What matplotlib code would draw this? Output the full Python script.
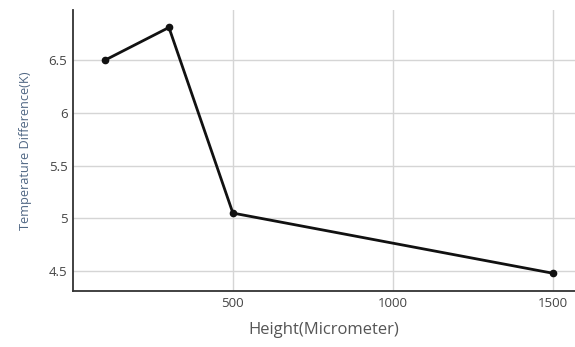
import matplotlib.pyplot as plt

# Altura del canal vs diferencia de temperatura
height = [100, 300, 500, 1500]
temp_diff = [6.5, 6.81, 5.05, 4.48]
x_ticks = [500, 1000, 1500]
y_ticks = [4.5, 5, 5.5, 6, 6.5]

plt.rcParams['font.family'] = ['Open Sans', 'DejaVu Sans']

fig = plt.figure(figsize=(5.75, 3.47), dpi=100)
ax = fig.add_axes([0.127, 0.161, 0.873, 0.81])

ax.plot(height, temp_diff, color='#111111', lw=2, marker='o', ms=4.5, zorder=3)

ax.set_xlim(0, 1570)
ax.set_ylim(4.31, 6.975)
ax.set_xticks(x_ticks)
ax.set_yticks(y_ticks)
ax.set_yticklabels(['4.5', '5', '5.5', '6', '6.5'])
ax.tick_params(length=0, labelsize=9.5, colors='#444444', pad=4)
ax.grid(True, color='#d5d5d5', lw=1)
ax.set_axisbelow(True)

for s in ['top', 'right']:
    ax.spines[s].set_visible(False)
for s in ['left', 'bottom']:
    ax.spines[s].set_color('#333333')
    ax.spines[s].set_linewidth(1.3)

ax.set_xlabel('Height(Micrometer)', fontsize=12, color='#555555', labelpad=9)
ax.set_ylabel('Temperature Difference(K)', fontsize=9.2, color='#506784',
              labelpad=12)

fig.savefig('out.png', dpi=100)
